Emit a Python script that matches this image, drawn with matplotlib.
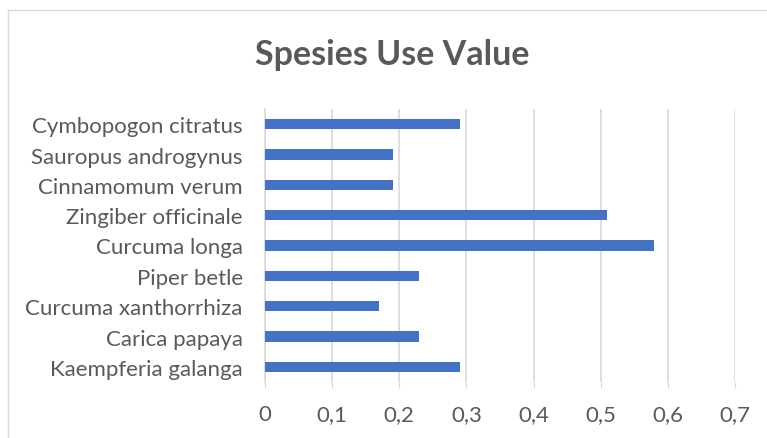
import matplotlib.pyplot as plt
from matplotlib.patches import Rectangle
from matplotlib.ticker import FuncFormatter

# Species and their use value (bottom to top as in the chart)
species = ["Kaempferia galanga", "Carica papaya", "Curcuma xanthorrhiza",
           "Piper betle", "Curcuma longa", "Zingiber officinale",
           "Cinnamomum verum", "Sauropus androgynus", "Cymbopogon citratus"]
use_value = [0.29, 0.23, 0.17, 0.23, 0.58, 0.51, 0.19, 0.19, 0.29]

plt.rcParams['font.family'] = ['Lato', 'DejaVu Sans']
text_color = "#595959"
grid_color = "#D9D9D9"

fig = plt.figure(figsize=(7.67, 4.39), dpi=100)
ax = fig.add_axes([265 / 767, 1 - 383 / 439, 470 / 767, 273 / 439])

ax.barh(range(len(species)), use_value, height=0.35, color="#4472C4", zorder=3)

ax.set_xlim(0, 0.7)
ax.set_ylim(-0.5, len(species) - 0.5)
ax.set_xticks([0, 0.1, 0.2, 0.3, 0.4, 0.5, 0.6, 0.7])
ax.xaxis.set_major_formatter(FuncFormatter(lambda v, p: "0" if v == 0 else f"{v:.1f}".replace(".", ",")))
ax.set_yticks(range(len(species)))
ax.set_yticklabels(species)

ax.grid(axis="x", color=grid_color, linewidth=1.2, zorder=0)
for side in ["top", "right", "bottom"]:
    ax.spines[side].set_visible(False)
ax.spines["left"].set_color(grid_color)
ax.spines["left"].set_linewidth(1.2)

ax.tick_params(axis="x", length=4, color=grid_color, labelcolor=text_color,
               labelsize=16, pad=12)
ax.tick_params(axis="y", length=0, labelcolor=text_color, labelsize=16, pad=16)

fig.text(392 / 767, 1 - 55 / 439, "Spesies Use Value", ha="center", va="center",
         fontsize=24.5, fontweight="bold", color=text_color)

# chart border
fig.patches.append(Rectangle((8 / 767, -0.1), 1.2, 1 - 11 / 439 + 0.1,
                             transform=fig.transFigure, fill=False,
                             edgecolor=grid_color, linewidth=1))

fig.savefig("out.png", dpi=100)
